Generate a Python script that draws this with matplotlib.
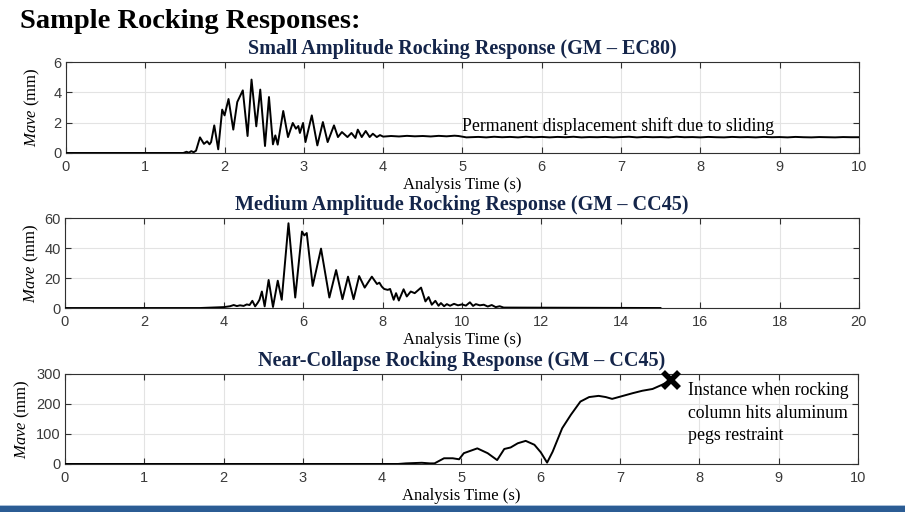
import matplotlib
matplotlib.use("Agg")
import matplotlib.pyplot as plt
from matplotlib.patches import Rectangle

plt.rcParams['font.family'] = ['Liberation Serif', 'DejaVu Serif']
plt.rcParams['mathtext.fontset'] = 'custom'
plt.rcParams['mathtext.it'] = 'Liberation Serif:italic'
plt.rcParams['mathtext.rm'] = 'Liberation Serif'

# Small amplitude response (GM - EC80)
t_small = [0, 1.48, 1.52, 1.55, 1.58, 1.61, 1.64, 1.69, 1.74, 1.78, 1.81, 1.83,
           1.87, 1.92, 1.97, 2.00, 2.05, 2.11, 2.16, 2.23, 2.29, 2.34, 2.40, 2.45,
           2.51, 2.56, 2.61, 2.64, 2.67, 2.74, 2.80, 2.86, 2.90, 2.93, 2.95, 2.99,
           3.02, 3.10, 3.17, 3.24, 3.30, 3.38, 3.43, 3.48, 3.55, 3.60, 3.65, 3.68,
           3.73, 3.78, 3.83, 3.87, 3.92, 3.96, 4.00, 4.10, 4.20, 4.30, 4.40, 4.50,
           4.60, 4.70, 4.80, 4.90, 4.95, 5.05, 5.20, 5.30, 5.40, 5.50, 5.60, 5.70,
           5.80, 5.90, 6.00, 6.10, 6.20, 6.30, 6.40, 6.50, 6.60, 6.70, 6.80, 6.90,
           7.00, 7.10, 7.20, 7.30, 7.40, 7.50, 7.60, 7.70, 7.80, 7.90, 8.00, 8.10,
           8.20, 8.30, 8.40, 8.50, 8.60, 8.70, 8.80, 8.90, 9.00, 9.10, 9.20, 9.30,
           9.40, 9.50, 9.60, 9.70, 9.80, 9.90, 10.0]
m_small = [0, 0, 0.08, 0.02, 0.12, 0.05, 0.15, 1.03, 0.60, 0.77, 0.57, 0.72,
           1.82, 0.24, 2.86, 2.48, 3.56, 1.54, 3.36, 4.13, 1.12, 4.84, 1.76, 4.18,
           0.46, 3.69, 0.57, 1.16, 0.55, 2.77, 1.05, 1.98, 1.60, 1.78, 1.32, 1.98,
           0.72, 2.48, 0.50, 2.04, 0.72, 1.82, 1.05, 1.38, 1.05, 1.32, 0.99, 1.54,
           1.05, 1.45, 1.05, 1.27, 1.05, 1.18, 1.08, 1.12, 1.09, 1.13, 1.10, 1.12,
           1.09, 1.13, 1.10, 1.14, 1.12, 1.03, 1.06, 1.03, 1.07, 1.04, 1.06, 1.03,
           1.07, 1.04, 1.06, 1.03, 1.06, 1.04, 1.07, 1.03, 1.05, 1.04, 1.06, 1.03,
           1.05, 1.07, 1.03, 1.06, 1.04, 1.05, 1.03, 1.07, 1.04, 1.05, 1.03, 1.06,
           1.04, 1.03, 1.06, 1.04, 1.05, 1.03, 1.06, 1.04, 1.05, 1.03, 1.06, 1.04,
           1.03, 1.05, 1.04, 1.03, 1.05, 1.04, 1.04]

# Medium amplitude response (GM - CC45)
t_medium = [0, 3.4, 3.8, 4.0, 4.16, 4.25, 4.33, 4.41, 4.50, 4.58, 4.65, 4.72,
            4.79, 4.85, 4.90, 4.96, 5.03, 5.13, 5.24, 5.36, 5.46, 5.63, 5.80, 5.97,
            6.03, 6.09, 6.24, 6.45, 6.66, 6.83, 6.99, 7.13, 7.27, 7.41, 7.55, 7.73,
            7.86, 7.92, 7.98, 8.04, 8.13, 8.19, 8.28, 8.34, 8.41, 8.53, 8.61, 8.71,
            8.81, 8.97, 9.08, 9.16, 9.24, 9.33, 9.41, 9.47, 9.55, 9.62, 9.70, 9.80,
            9.90, 10.0, 10.1, 10.2, 10.28, 10.35, 10.45, 10.55, 10.65, 10.75, 10.85,
            10.95, 11.05, 15.0]
m_medium = [0, 0, 0.4, 0.6, 1.2, 2.0, 1.3, 1.8, 1.4, 2.4, 2.0, 4.8,
            1.1, 3.3, 5.5, 11.0, 1.1, 18.7, 0.7, 18.2, 5.5, 56.5, 7.0, 51.0,
            48.4, 50.0, 14.7, 39.6, 7.0, 25.3, 5.9, 20.9, 5.9, 21.3, 13.6, 20.9,
            16.0, 16.9, 14.3, 12.7, 12.1, 12.7, 5.5, 9.9, 5.0, 12.5, 7.7, 11.0,
            9.9, 13.6, 4.4, 7.3, 2.2, 4.8, 1.5, 3.3, 1.2, 2.6, 1.5, 2.8,
            1.8, 2.4, 1.6, 3.8, 1.4, 2.6, 1.8, 2.2, 1.0, 2.0, 0.6,
            1.2, 0.3, 0]

# Near-collapse response (GM - CC45)
t_collapse = [0, 4.2, 4.3, 4.4, 4.5, 4.6, 4.66, 4.78, 4.89, 4.97, 5.03, 5.20,
              5.33, 5.45, 5.54, 5.62, 5.71, 5.81, 5.92, 6.00, 6.08, 6.15, 6.27,
              6.38, 6.50, 6.61, 6.73, 6.82, 6.90, 7.01, 7.16, 7.28, 7.41, 7.53, 7.64]
m_collapse = [0, 0, 2, 3, 4, 2, 2, 19, 19, 15.6, 36, 52,
              36, 13, 50, 55, 69, 77, 64, 39, 4.5, 41, 119,
              164, 208, 223, 227, 223, 217, 225, 236, 244, 250, 264, 279]
hit_time = 7.64
hit_value = 279

navy = '#14254a'
tick_grey = '#3a3a3a'

fig = plt.figure(figsize=(9.05, 5.12), dpi=100)

panels = [
    ([0.0729, 0.7012, 0.8762, 0.1777], t_small, m_small, (0, 10), range(0, 11),
     (0, 6), [0, 2, 4, 6], 'Small Amplitude Rocking Response (GM \u2013 EC80)', -0.03),
    ([0.0718, 0.3984, 0.8773, 0.1758], t_medium, m_medium, (0, 20), range(0, 21, 2),
     (0, 60), [0, 20, 40, 60], 'Medium Amplitude Rocking Response (GM \u2013 CC45)', -0.03),
    ([0.0718, 0.0938, 0.8762, 0.1758], t_collapse, m_collapse, (0, 10), range(0, 11),
     (0, 300), [0, 100, 200, 300], 'Near-Collapse Rocking Response (GM \u2013 CC45)', -0.041),
]

axes = []
for rect, t, m, xl, xt, yl, yt, title, ylab_x in panels:
    ax = fig.add_axes(rect)
    ax.plot(t, m, color='black', lw=1.4, zorder=3)
    ax.set_xlim(*xl)
    ax.set_ylim(*yl)
    ax.set_xticks(list(xt))
    ax.set_yticks(yt)
    ax.grid(True, color='#e3e3e3', lw=0.8)
    ax.set_axisbelow(True)
    ax.tick_params(direction='in', length=4, width=0.8, top=True, right=True,
                   labelsize=10.5, labelcolor=tick_grey, color='#303030')
    ax.tick_params(axis='x', pad=5)
    ax.tick_params(axis='y', pad=3)
    for lab in ax.get_xticklabels() + ax.get_yticklabels():
        lab.set_family(['Liberation Sans', 'DejaVu Sans'])
    for sp in ax.spines.values():
        sp.set_color('#303030')
        sp.set_linewidth(0.8)
    ax.set_title(title, fontsize=14.5, fontweight='bold', color=navy, pad=6)
    ax.set_xlabel('Analysis Time (s)', fontsize=12, labelpad=2)
    ax.set_ylabel(r'$\mathit{Mave}$ (mm)', fontsize=12)
    ax.yaxis.set_label_coords(ylab_x, 0.5)
    axes.append(ax)

axes[0].text(5.0, 1.2, 'Permanent displacement shift due to sliding',
             fontsize=12.8, va='bottom', ha='left')

axes[2].plot([hit_time], [hit_value], marker='x', color='black', ms=11, mew=4,
             zorder=4, clip_on=False)
axes[2].text(7.86, 272, 'Instance when rocking\ncolumn hits aluminum\npegs restraint',
             fontsize=12.8, va='top', ha='left', linespacing=1.4)

fig.text(0.022, 0.958, 'Sample Rocking Responses:', fontsize=20.5, fontweight='bold',
         va='center', ha='left')

# blue footer band
fig.add_artist(Rectangle((0, 0), 1, 6 / 512, transform=fig.transFigure,
                         color='#2b5c94', lw=0))
fig.add_artist(Rectangle((0, 6 / 512), 1, 1 / 512, transform=fig.transFigure,
                         color='#a9bfd8', lw=0))

fig.savefig('out.png', dpi=100)
